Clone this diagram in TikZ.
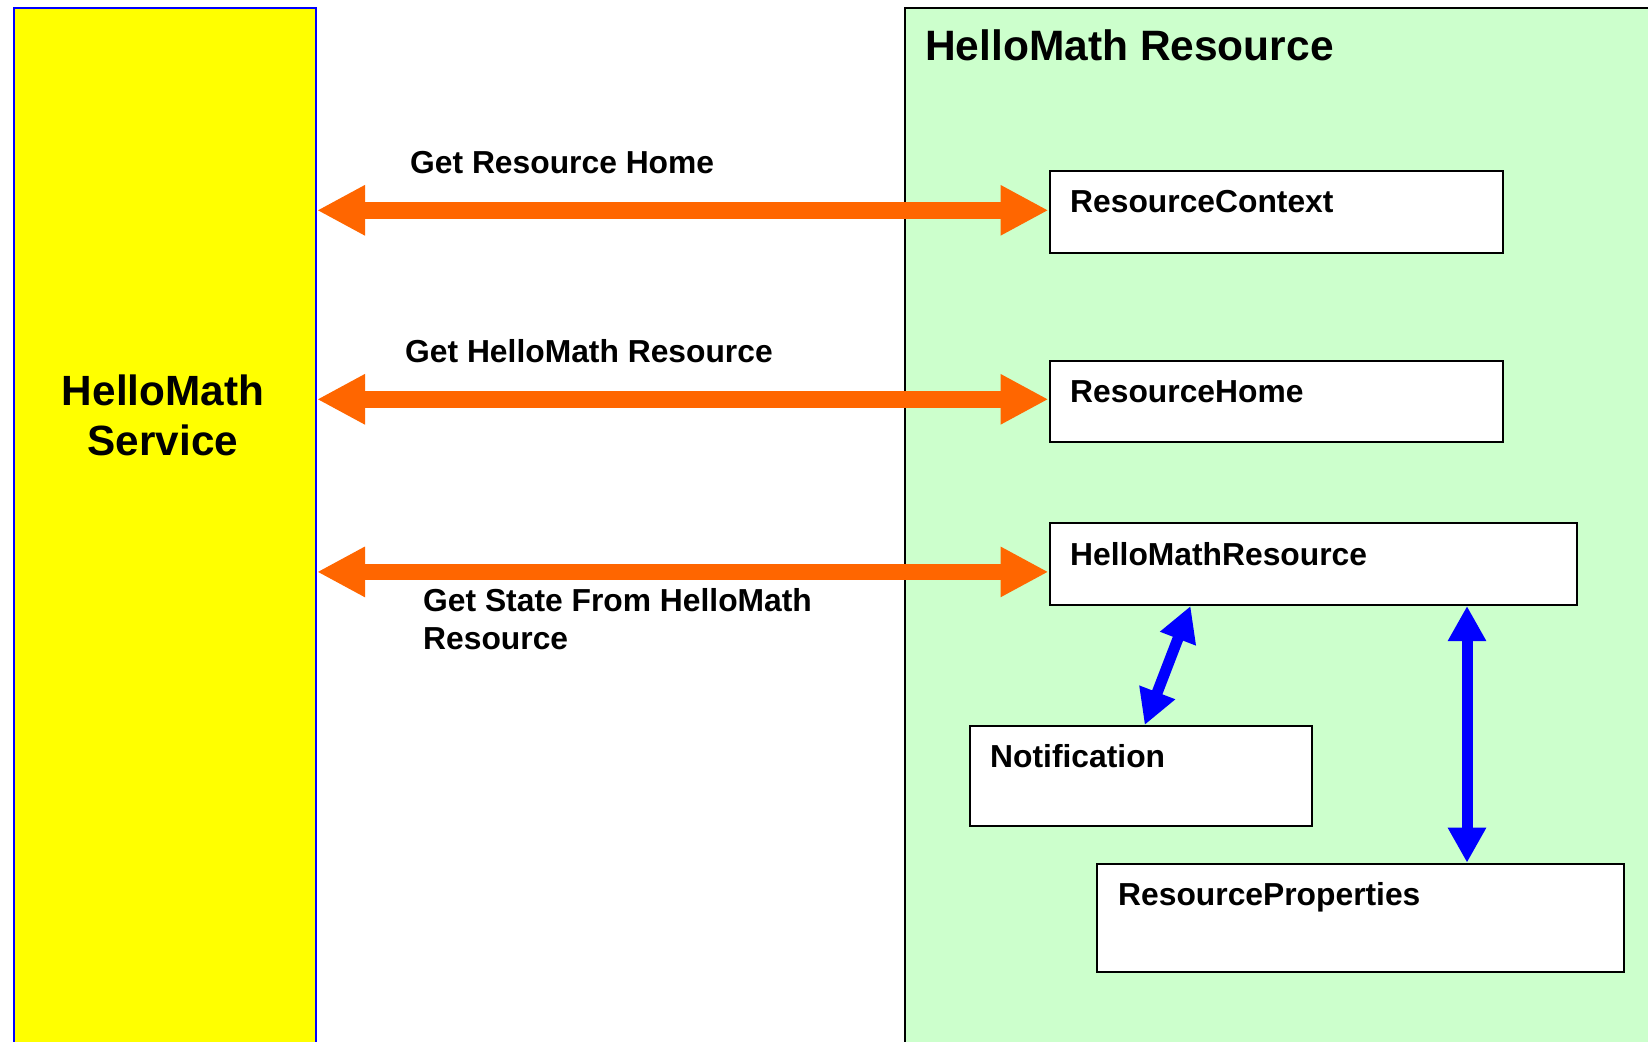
\documentclass[tikz,border=0pt]{standalone}
\usepackage{fontspec}
\setmainfont{Liberation Sans}
\usetikzlibrary{arrows.meta,calc}
\definecolor{svcyellow}{HTML}{FFFF00}
\definecolor{resgreen}{HTML}{CCFFCC}
\definecolor{arrorange}{HTML}{FF6600}
\definecolor{arrblue}{HTML}{0000FF}
\tikzset{
  lbl/.style={anchor=base west, inner sep=0pt, font=\bfseries\fontsize{31.8}{37.6}\selectfont, align=left},
  compbox/.style={draw=black, line width=2pt, fill=white, anchor=north west, inner sep=0pt},
  callarrow/.style={draw=arrorange, line width=16.5pt, {Triangle[width=47pt,length=48pt]}-{Triangle[width=47pt,length=48pt]}},
  linkarrow/.style={draw=arrblue, line width=11pt, {Triangle[width=36pt,length=35pt]}-{Triangle[width=36pt,length=35pt]}}
}
\begin{document}
\begin{tikzpicture}[x=1pt,y=-1pt]
\useasboundingbox (0,0) rectangle (1648,1041);
\clip (0,0) rectangle (1648,1041);
\fill[white] (0,0) rectangle (1648,1041);
% service column
\node[draw=arrblue, line width=2pt, fill=svcyellow, anchor=north west, inner sep=0pt,
      minimum width=302.5pt, minimum height=1100pt] (service) at (12.5,7) {};
\node[anchor=base, inner sep=0pt, align=center, font=\bfseries\fontsize{42.3}{50}\selectfont] (servicelbl) at (163,455) {HelloMath\\Service};
% resource area
\node[draw=black, line width=2pt, fill=resgreen, anchor=north west, inner sep=0pt,
      minimum width=800pt, minimum height=1100pt] (resource) at (903.5,7.3) {};
\node[anchor=base west, inner sep=0pt, font=\bfseries\fontsize{42.5}{48}\selectfont] (resourcelbl) at (925,60) {HelloMath Resource};
% component boxes
\node[compbox, minimum width=453.5pt, minimum height=82pt] (rc) at (1048.5,170) {};
\node[compbox, minimum width=453.5pt, minimum height=81pt] (rh) at (1048.5,359.5) {};
\node[compbox, minimum width=527pt, minimum height=81.6pt] (hmr) at (1048.5,522.4) {};
\node[compbox, minimum width=342pt, minimum height=100pt] (notif) at (968.7,725) {};
\node[compbox, minimum width=527pt, minimum height=108.3pt] (rp) at (1096,862.7) {};
\node[lbl] (rclbl) at (1070,212) {ResourceContext};
\node[lbl] (rhlbl) at (1070,402) {ResourceHome};
\node[lbl] (hmrlbl) at (1070,565) {HelloMathResource};
\node[lbl] (notiflbl) at (990,767) {Notification};
\node[lbl] (rplbl) at (1118,905) {ResourceProperties};
% call arrows
\draw[callarrow] ([yshift=1.7pt]rc.west -| service.east) -- ([yshift=1.7pt]rc.west);
\draw[callarrow] ([yshift=1.7pt]rh.west -| service.east) -- ([yshift=1.7pt]rh.west);
\draw[callarrow] ([yshift=-7.7pt]hmr.west -| service.east) -- ([yshift=-7.7pt]hmr.west);
\node[lbl] (l1) at (410,173.3) {Get Resource Home};
\node[lbl] (l2) at (405,362.7) {Get HelloMath Resource};
\node[lbl] (l3) at (423,649.3) {Get State From HelloMath\\Resource};
% links
\draw[linkarrow] ([xshift=142pt]hmr.south west) -- ([xshift=176pt]notif.north west);
\draw[linkarrow] ([xshift=418.5pt]hmr.south west) -- ([xshift=418.5pt]hmr.south west |- rp.north);
\end{tikzpicture}
\end{document}
